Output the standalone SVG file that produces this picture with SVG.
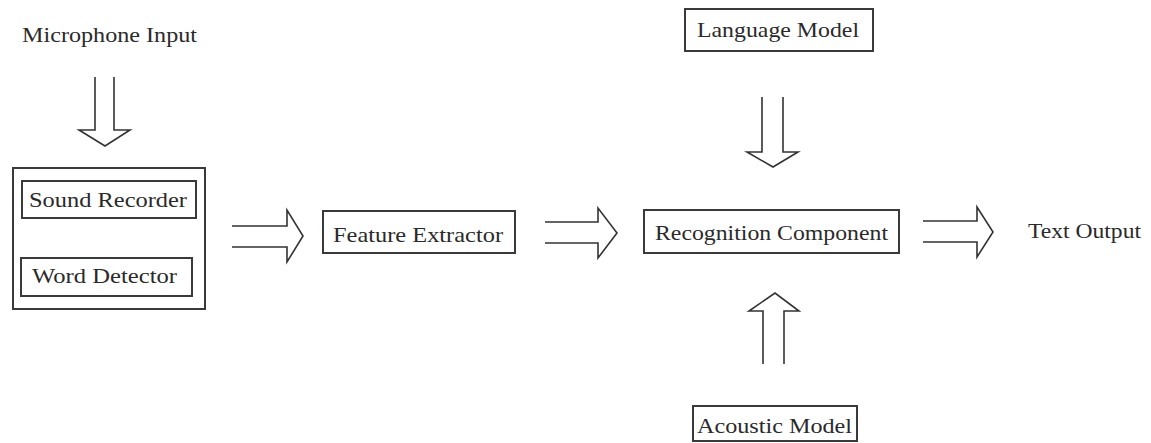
<svg xmlns="http://www.w3.org/2000/svg" width="1151" height="443" viewBox="0 0 1151 443">
<style>
.box{fill:none;stroke:#3a3a3a;stroke-width:2}
.lbl{font-family:"Liberation Serif","Times New Roman",serif;font-size:22px;fill:#2a2a2a}
.arr{fill:none;stroke:#333;stroke-width:1.6;stroke-linejoin:miter}
</style>
<rect width="1151" height="443" fill="#fff"/>
<g id="microphone-input">
<text class="lbl" x="22" y="42" textLength="175" lengthAdjust="spacingAndGlyphs">Microphone Input</text>
</g>
<g id="front-end">
<rect class="box" x="13" y="168" width="192" height="141"/>
<g id="sound-recorder">
<rect class="box" x="22" y="181" width="174" height="37"/>
<text class="lbl" x="29" y="207" textLength="158" lengthAdjust="spacingAndGlyphs">Sound Recorder</text>
</g>
<g id="word-detector">
<rect class="box" x="21" y="258" width="171" height="38"/>
<text class="lbl" x="32" y="283" textLength="145" lengthAdjust="spacingAndGlyphs">Word Detector</text>
</g>
</g>
<g id="feature-extractor">
<rect class="box" x="323" y="211" width="192" height="42"/>
<text class="lbl" x="333" y="242" textLength="170" lengthAdjust="spacingAndGlyphs">Feature Extractor</text>
</g>
<g id="language-model">
<rect class="box" x="685" y="9" width="188" height="42"/>
<text class="lbl" x="697" y="37" textLength="162" lengthAdjust="spacingAndGlyphs">Language Model</text>
</g>
<g id="recognition-component">
<rect class="box" x="644" y="210" width="255" height="43"/>
<text class="lbl" x="655" y="240" textLength="233" lengthAdjust="spacingAndGlyphs">Recognition Component</text>
</g>
<g id="text-output">
<text class="lbl" x="1028" y="238" textLength="113" lengthAdjust="spacingAndGlyphs">Text Output</text>
</g>
<g id="acoustic-model">
<rect class="box" x="693" y="406" width="164" height="35"/>
<text class="lbl" x="697" y="433" textLength="155" lengthAdjust="spacingAndGlyphs">Acoustic Model</text>
</g>
<g id="connectors">
<path class="arr" d="M95 77 V130 H79 L105 146 L130 130 H114 V77"/>
<path class="arr" d="M232 226 H287 V210 L303 236 L287 262 V247 H232"/>
<path class="arr" d="M545 222 H598 V208 L617 233 L598 258 V243 H545"/>
<path class="arr" d="M923 221 H977 V207 L993 232 L977 257 V242 H923"/>
<path class="arr" d="M762 97 V152 H747 L773 167 L798 152 H783 V97"/>
<path class="arr" d="M763 364 V311 H749 L775 293 L799 311 H784 V364"/>
</g>
</svg>
